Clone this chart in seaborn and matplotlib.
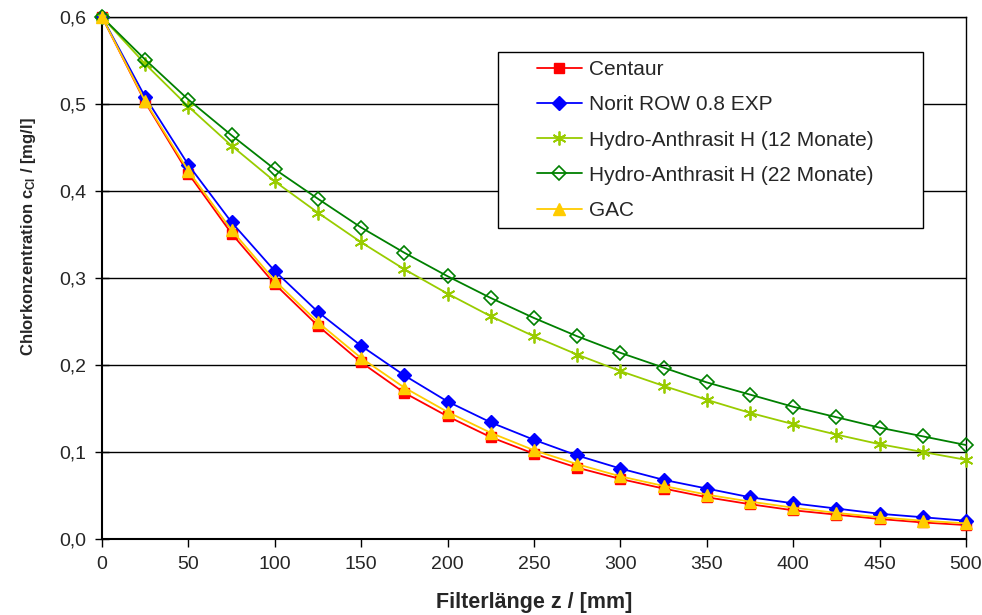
import matplotlib
matplotlib.use("Agg")
import matplotlib.pyplot as plt
import seaborn as sns
import pandas as pd
from matplotlib.ticker import FuncFormatter, MultipleLocator
from matplotlib.patches import Rectangle

z = [0, 25, 50, 75, 100, 125, 150, 175, 200, 225, 250, 275, 300, 325, 350, 375, 400, 425, 450, 475, 500]

centaur = [0.600, 0.502, 0.420, 0.351, 0.293, 0.245, 0.203, 0.168, 0.141, 0.117, 0.098, 0.082, 0.069, 0.058,
           0.048, 0.040, 0.033, 0.028, 0.023, 0.019, 0.016]
norit = [0.600, 0.508, 0.430, 0.364, 0.308, 0.261, 0.222, 0.188, 0.158, 0.134, 0.114, 0.096, 0.081, 0.068,
         0.058, 0.048, 0.041, 0.035, 0.029, 0.025, 0.021]
hydro12 = [0.600, 0.546, 0.497, 0.452, 0.411, 0.375, 0.341, 0.310, 0.282, 0.256, 0.233, 0.212, 0.193, 0.176,
           0.160, 0.145, 0.132, 0.120, 0.109, 0.100, 0.091]
hydro22 = [0.600, 0.551, 0.505, 0.464, 0.425, 0.391, 0.358, 0.329, 0.302, 0.277, 0.254, 0.233, 0.214, 0.197,
           0.180, 0.166, 0.152, 0.140, 0.128, 0.118, 0.108]
gac = [0.600, 0.503, 0.423, 0.355, 0.297, 0.249, 0.208, 0.174, 0.146, 0.122, 0.102, 0.086, 0.072, 0.061,
       0.051, 0.043, 0.036, 0.030, 0.025, 0.021, 0.018]

series_names = ["Centaur", "Norit ROW 0.8 EXP", "Hydro-Anthrasit H (12 Monate)",
                "Hydro-Anthrasit H (22 Monate)", "GAC"]
series_values = [centaur, norit, hydro12, hydro22, gac]

x_label = "Filterlänge z / [mm]"
y_label = r"Chlorkonzentration c$_{\mathrm{Cl}}$ / [mg/l]"

sns.set_theme(style="white")
plt.rcParams["font.family"] = ["Liberation Sans", "DejaVu Sans"]
plt.rcParams["mathtext.fontset"] = "custom"
plt.rcParams["mathtext.rm"] = "Liberation Sans:bold"
plt.rcParams["mathtext.it"] = "Liberation Sans:bold"
plt.rcParams["mathtext.bf"] = "Liberation Sans:bold"

styles = {
    "Centaur": dict(color="#FF0000", marker="s", ms=7, mfc="#FF0000", mec="#FF0000", mew=1),
    "Norit ROW 0.8 EXP": dict(color="#0000FF", marker="D", ms=7, mfc="#0000FF", mec="#0000FF", mew=1),
    "Hydro-Anthrasit H (12 Monate)": dict(color="#99CC00", marker=(6, 2, 0), ms=10, mfc="#99CC00",
                                          mec="#99CC00", mew=1.3),
    "Hydro-Anthrasit H (22 Monate)": dict(color="#008000", marker="D", ms=7.5, mfc="none", mec="#008000",
                                          mew=1.2),
    "GAC": dict(color="#FFCC00", marker="^", ms=9, mfc="#FFCC00", mec="#FFCC00", mew=1),
}

W, H = 982, 615
AX_L, AX_R, AX_T, AX_B = 102, 966, 17, 539
fig = plt.figure(figsize=(W / 100, H / 100), dpi=100)
ax = fig.add_axes([AX_L / W, 1 - AX_B / H, (AX_R - AX_L) / W, (AX_B - AX_T) / H])


def ax_x(px):
    return (px - AX_L) / (AX_R - AX_L)


def ax_y(py):
    return (AX_B - py) / (AX_B - AX_T)


for name, vals in zip(series_names, series_values):
    df = pd.DataFrame({"z": z, "c": vals})
    st = styles[name]
    sns.lineplot(data=df, x="z", y="c", ax=ax, color=st["color"], linewidth=1.3,
                 marker=st["marker"], markersize=st["ms"], markerfacecolor=st["mfc"],
                 markeredgecolor=st["mec"], markeredgewidth=st["mew"], label=name,
                 clip_on=False, zorder=3)

ax.set_xlim(0, 500)
ax.set_ylim(0, 0.6)
ax.xaxis.set_major_locator(MultipleLocator(50))
ax.yaxis.set_major_locator(MultipleLocator(0.1))
ax.yaxis.set_major_formatter(FuncFormatter(lambda v, p: f"{v:.1f}".replace(".", ",")))
ax.grid(axis="y", color="black", linewidth=1)
ax.grid(axis="x", visible=False)
for s in ax.spines.values():
    s.set_color("black")
    s.set_linewidth(1)
ax.spines["left"].set_linewidth(1.5)
ax.spines["bottom"].set_linewidth(1.5)

ax.tick_params(axis="x", direction="out", length=6, width=1, color="black", labelsize=14, pad=6,
               bottom=True)
ax.tick_params(axis="y", direction="inout", length=10, width=1, color="black", labelsize=14, pad=6,
               left=True)

ax.set_xlabel(x_label, fontsize=15.5, fontweight="bold", labelpad=14)
ax.set_ylabel(y_label, fontsize=12, fontweight="bold")
ax.yaxis.set_label_coords(ax_x(38), ax_y(237))

# legend frame
frame = Rectangle((ax_x(498), ax_y(228)), ax_x(923) - ax_x(498), ax_y(52) - ax_y(228),
                  transform=ax.transAxes, facecolor="white", edgecolor="black", linewidth=1,
                  zorder=4, clip_on=False)
ax.add_patch(frame)

leg = ax.legend(loc="upper left", bbox_to_anchor=(ax_x(537), ax_y(60)), borderaxespad=0,
                frameon=False, fontsize=15, handlelength=2.15, labelspacing=0.78, borderpad=0,
                handletextpad=0.35)
leg.set_zorder(5)

fig.savefig("out.png", dpi=100)
